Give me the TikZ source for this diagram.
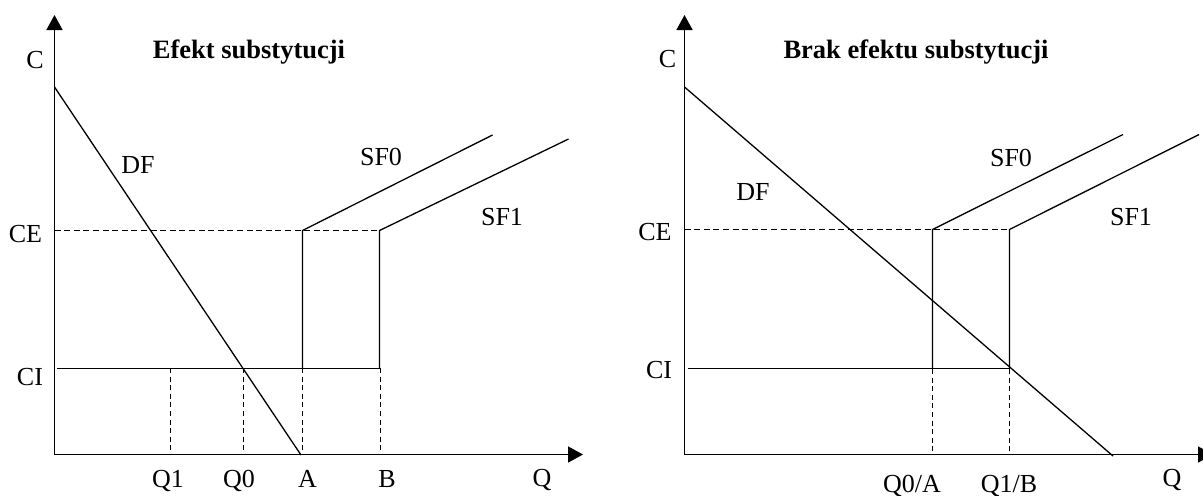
\documentclass[tikz,border=0pt]{standalone}
\usepackage{fontspec}
\setmainfont{Liberation Serif}
\usetikzlibrary{arrows.meta}
\begin{document}
\begin{tikzpicture}[x=0.5pt,y=-0.5pt,
  axis/.style={line width=0.8pt,-{Triangle[length=7.5pt,width=8pt]}},
  curve/.style={line width=0.65pt},
  guide/.style={line width=0.65pt,dash pattern=on 3pt off 1.8pt},
  vguide/.style={line width=0.65pt,dash pattern=on 2.5pt off 1.8pt},
  lbl/.style={font=\fontsize{13}{15}\selectfont,anchor=base,inner sep=0pt},
  ttl/.style={font=\fontsize{13.25}{15}\selectfont\bfseries,anchor=base,inner sep=0pt}]
\useasboundingbox (0,0) rectangle (1203,495);

% ---------------- left chart ----------------
\coordinate (LO) at (54.5,454.5);
\coordinate (LYtop) at (54.5,15);
\coordinate (LXend) at (583,454.5);
\draw[axis] (LO) -- (LYtop);
\draw[axis] (LO) -- (LXend);

\coordinate (LDFa) at (54.5,87);
\coordinate (LDFb) at (301,455);
\draw[curve] (LDFa) -- (LDFb);

\coordinate (LCEa) at (54.5,230.5);
\coordinate (LCEb) at (379.5,230.5);
\draw[guide] (LCEa) -- (LCEb);

\coordinate (LCIa) at (57,368.5);
\coordinate (LCIb) at (379.5,368.5);
\draw[curve] (LCIa) -- (LCIb);

\coordinate (LA0) at (302.5,368.5);
\coordinate (LA1) at (302.5,230.5);
\coordinate (LA2) at (492.5,135);
\draw[curve] (LA0) -- (LA1) -- (LA2);

\coordinate (LB0) at (379.5,368.5);
\coordinate (LB1) at (379.5,230.5);
\coordinate (LB2) at (568.5,139);
\draw[curve] (LB0) -- (LB1) -- (LB2);

\foreach \n/\x in {q1/170.5,q0/243.5,a/302.5,b/380.5}{
  \coordinate (L\n t) at (\x,368);
  \coordinate (L\n b) at (\x,453);
  \draw[vguide] (L\n t) -- (L\n b);
}

\node[ttl] (Ltitle) at (249,58) {Efekt substytucji};
\node[lbl] (LC) at (35,68) {C};
\node[lbl] (LCE) at (25.5,242) {CE};
\node[lbl] (LCI) at (30,385) {CI};
\node[lbl] (LDF) at (138,173) {DF};
\node[lbl] (LSF0) at (381,165) {SF0};
\node[lbl] (LSF1) at (502,225) {SF1};
\node[lbl] (LQ1) at (168,487) {Q1};
\node[lbl] (LQ0) at (239,487) {Q0};
\node[lbl] (LAl) at (307.5,487) {A};
\node[lbl] (LBl) at (387,487) {B};
\node[lbl] (LQ) at (542,486) {Q};

% ---------------- right chart ----------------
\coordinate (RO) at (684.5,454.5);
\coordinate (RYtop) at (684.5,15);
\coordinate (RXend) at (1213,454.5);
\draw[axis] (RO) -- (RYtop);
\draw[axis] (RO) -- (RXend);

\coordinate (RDFa) at (684.5,87);
\coordinate (RDFb) at (1113,456);
\draw[curve] (RDFa) -- (RDFb);

\coordinate (RCEa) at (684.5,229.5);
\coordinate (RCEb) at (1009.5,229.5);
\draw[guide] (RCEa) -- (RCEb);

\coordinate (RCIa) at (687.5,368.5);
\coordinate (RCIb) at (1009.5,368.5);
\draw[curve] (RCIa) -- (RCIb);

\coordinate (RA0) at (932.5,368.5);
\coordinate (RA1) at (932.5,229.5);
\coordinate (RA2) at (1123,134.5);
\draw[curve] (RA0) -- (RA1) -- (RA2);

\coordinate (RB0) at (1009.5,368.5);
\coordinate (RB1) at (1009.5,229.5);
\coordinate (RB2) at (1199,134.5);
\draw[curve] (RB0) -- (RB1) -- (RB2);

\foreach \n/\x in {a/932.5,b/1009.5}{
  \coordinate (R\n t) at (\x,369);
  \coordinate (R\n b) at (\x,451);
  \draw[vguide] (R\n t) -- (R\n b);
}

\node[ttl] (Rtitle) at (916,58) {Brak efektu substytucji};
\node[lbl] (RC) at (667.5,67) {C};
\node[lbl] (RCE) at (655,240) {CE};
\node[lbl] (RCI) at (659,378) {CI};
\node[lbl] (RDF) at (753,200) {DF};
\node[lbl] (RSF0) at (1011,166) {SF0};
\node[lbl] (RSF1) at (1131,225) {SF1};
\node[lbl] (RQ0A) at (912,492) {Q0/A};
\node[lbl] (RQ1B) at (1009,492) {Q1/B};
\node[lbl] (RQ) at (1172,486) {Q};
\end{tikzpicture}
\end{document}
